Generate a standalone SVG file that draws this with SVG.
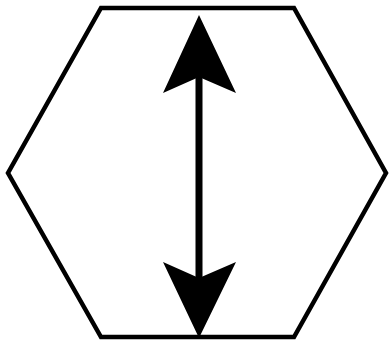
<svg xmlns="http://www.w3.org/2000/svg" width="391" height="341" viewBox="0 0 391 341">
<style>
.hex{fill:#fff;stroke:#000;stroke-width:4.5;stroke-linejoin:miter}
.shaft{stroke:#000;stroke-width:7;fill:none}
.head{fill:#000;stroke:none}
</style>
<rect width="391" height="341" fill="#fff"/>
<g id="hexagon">
<polygon class="hex" points="101,8 294,8 386,173 294,337 101,337 8,173"/>
</g>
<g id="connectors">
<line class="shaft" x1="199" y1="70" x2="199" y2="285"/>
<polygon class="head" points="199,15 236,93 199,77 163,93"/>
<polygon class="head" points="199,338 236,262 199,278 163,262"/>
</g>
</svg>
